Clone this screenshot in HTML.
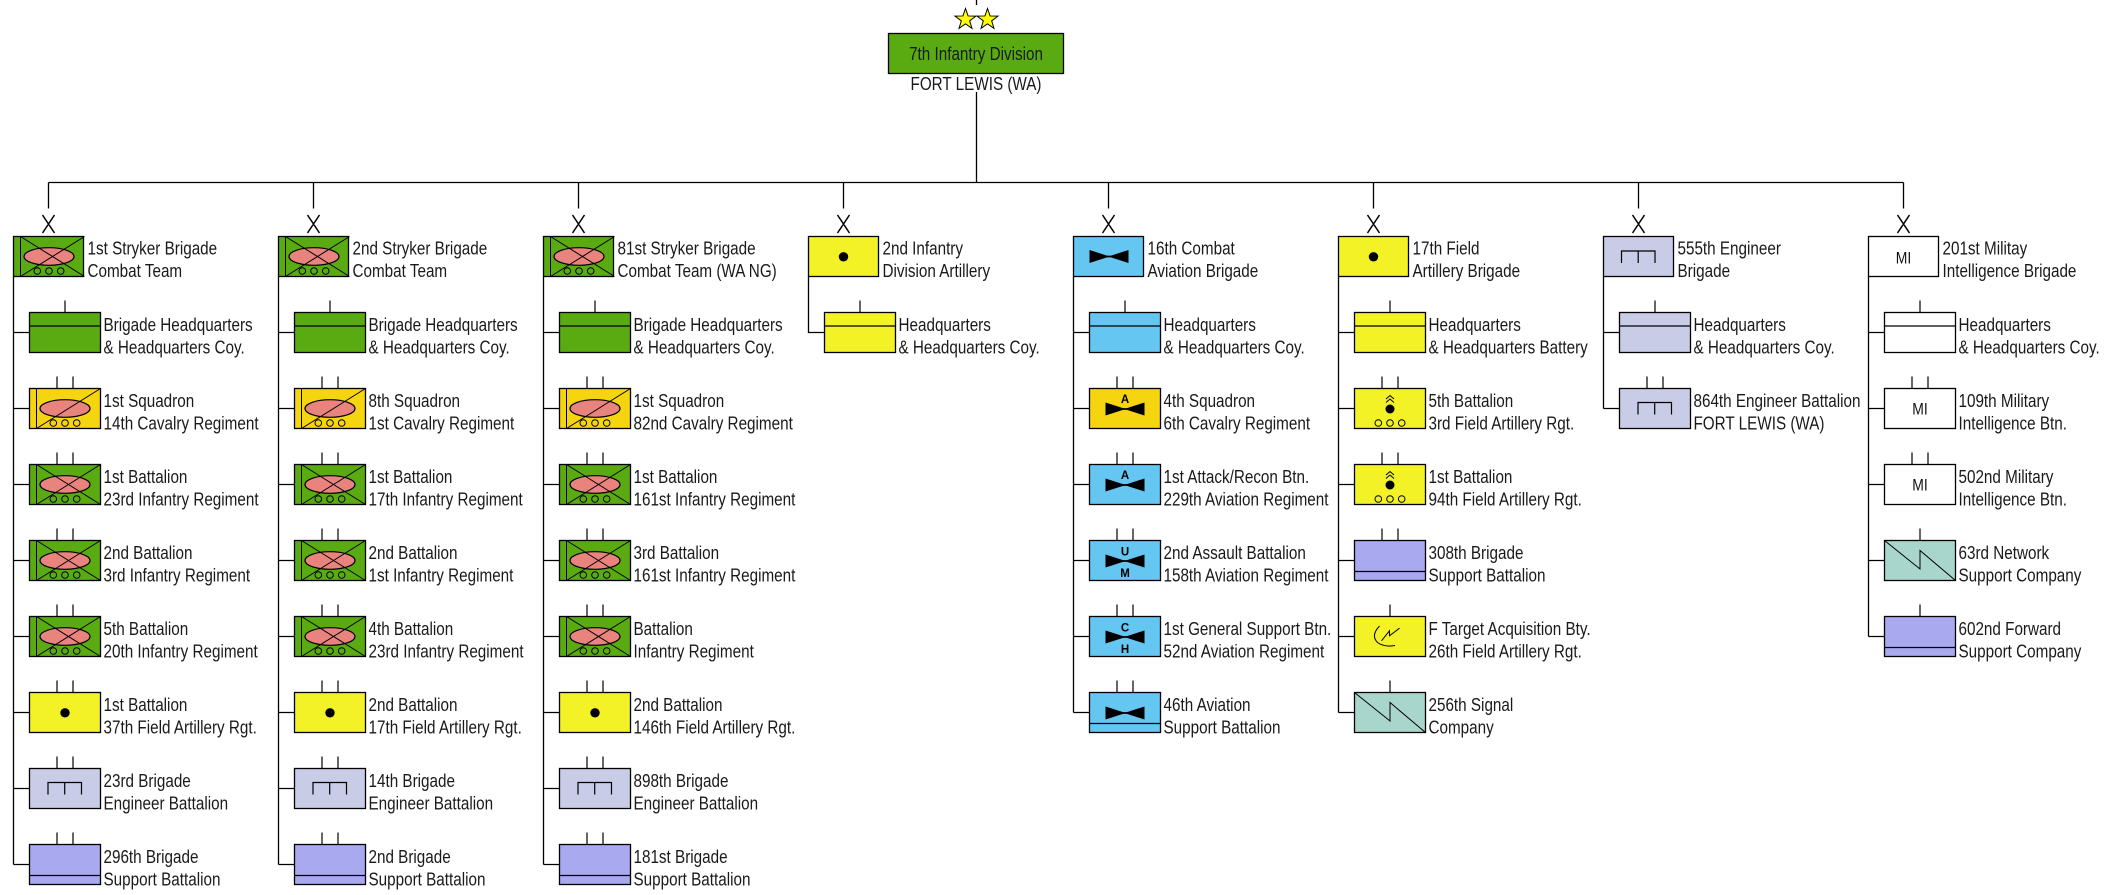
<!DOCTYPE html>
<html><head><meta charset="utf-8"><title>7th Infantry Division</title>
<style>
html,body{margin:0;padding:0;background:#fff;}
svg{display:block;}
text{font-family:"Liberation Sans",Arial,sans-serif;font-size:18.6px;fill:#1a1a1a;}
text.b{font-weight:bold;font-size:11.5px;fill:#000;text-anchor:middle;}
text.mi{font-size:17px;fill:#111;text-anchor:middle;}
rect{stroke:#000;stroke-width:1.3;}
</style></head><body>
<svg width="2111" height="895" viewBox="0 0 2111 895" xmlns="http://www.w3.org/2000/svg" xmlns:xlink="http://www.w3.org/1999/xlink">
<defs>
<path id="star" d="M0,-11L2.59,-3.56L10.46,-3.4L4.18,1.36L6.47,8.9L0,4.4L-6.47,8.9L-4.18,1.36L-10.46,-3.4L-2.59,-3.56Z" fill="#ffff00" stroke="#000" stroke-width="1"/>
<path id="t2" d="M27.5,-12V0M43.5,-12V0" stroke="#000" stroke-width="1.2" fill="none"/>
<path id="t1" d="M35.5,-12V0" stroke="#000" stroke-width="1.2" fill="none"/>
<path id="hq" d="M0,13.5H71" stroke="#000" stroke-width="1.2" fill="none"/>
<path id="sp" d="M0,31H71" stroke="#000" stroke-width="1.2" fill="none"/>
<path id="en" d="M18.5,26V14H52V26M35.2,14V26" stroke="#000" stroke-width="1.2" fill="none"/>
<circle id="dt" cx="35.5" cy="20.3" r="4.7" fill="#000"/>
<g id="inf">
<ellipse cx="35.5" cy="20" rx="25" ry="8.8" fill="#e8837e" stroke="#000" stroke-width="1.2"/>
<path d="M7,0V40M7,0L71,40M7,40L71,0" stroke="#000" stroke-width="1" fill="none"/>
<g fill="none" stroke="#000" stroke-width="1"><circle cx="23.8" cy="34.5" r="3.3"/><circle cx="35.5" cy="34.5" r="3.3"/><circle cx="47.2" cy="34.5" r="3.3"/></g>
</g>
<g id="cav">
<ellipse cx="35.5" cy="20" rx="25" ry="8.8" fill="#e8837e" stroke="#000" stroke-width="1.2"/>
<path d="M7,0V40M7,40L71,0" stroke="#000" stroke-width="1" fill="none"/>
<g fill="none" stroke="#000" stroke-width="1"><circle cx="23.8" cy="34.5" r="3.3"/><circle cx="35.5" cy="34.5" r="3.3"/><circle cx="47.2" cy="34.5" r="3.3"/></g>
</g>
<g id="rk">
<path d="M31.5,10.5L35.5,7L39.5,10.5M31.5,14L35.5,10.5L39.5,14" fill="none" stroke="#000" stroke-width="1"/>
<circle cx="35.5" cy="20.5" r="4.5" fill="#000"/>
<g fill="none" stroke="#000" stroke-width="1"><circle cx="23.8" cy="34.5" r="3.3"/><circle cx="35.5" cy="34.5" r="3.3"/><circle cx="47.2" cy="34.5" r="3.3"/></g>
</g>
<polygon id="bw" points="16,14 33.5,19.6 37.5,19.6 55,14 55,27 37.5,21.4 33.5,21.4 16,27" fill="#000"/>
<polyline id="sg" points="0,0 35.5,28.5 35.5,10 71,40" fill="none" stroke="#000" stroke-width="1"/>
<path id="ta" d="M25,9.5Q16,19 23,26Q30,31 40.5,29M27,24.3L35,14.3L35,19.3L45,11.7" fill="none" stroke="#000" stroke-width="1"/>
</defs>

<!-- connectors -->
<path fill="none" stroke="#000" stroke-width="1.3" d="
M976.5,0V5M976.5,92V182.5M48.5,182.5H1903.5
M48.5,182.5V208.5M313.5,182.5V208.5M578.5,182.5V208.5M843.5,182.5V208.5M1108.5,182.5V208.5M1373.5,182.5V208.5M1638.5,182.5V208.5M1903.5,182.5V208.5
M13.5,276.5V864.5M13.5,332.5H29.5M13.5,408.5H29.5M13.5,484.5H29.5M13.5,560.5H29.5M13.5,636.5H29.5M13.5,712.5H29.5M13.5,788.5H29.5M13.5,864.5H29.5
M278.5,276.5V864.5M278.5,332.5H294.5M278.5,408.5H294.5M278.5,484.5H294.5M278.5,560.5H294.5M278.5,636.5H294.5M278.5,712.5H294.5M278.5,788.5H294.5M278.5,864.5H294.5
M543.5,276.5V864.5M543.5,332.5H559.5M543.5,408.5H559.5M543.5,484.5H559.5M543.5,560.5H559.5M543.5,636.5H559.5M543.5,712.5H559.5M543.5,788.5H559.5M543.5,864.5H559.5
M808.5,276.5V332.5H824.5
M1073.5,276.5V712.5M1073.5,332.5H1089.5M1073.5,408.5H1089.5M1073.5,484.5H1089.5M1073.5,560.5H1089.5M1073.5,636.5H1089.5M1073.5,712.5H1089.5
M1338.5,276.5V712.5M1338.5,332.5H1354.5M1338.5,408.5H1354.5M1338.5,484.5H1354.5M1338.5,560.5H1354.5M1338.5,636.5H1354.5M1338.5,712.5H1354.5
M1603.5,276.5V408.5M1603.5,332.5H1619.5M1603.5,408.5H1619.5
M1868.5,276.5V636.5M1868.5,332.5H1884.5M1868.5,408.5H1884.5M1868.5,484.5H1884.5M1868.5,560.5H1884.5M1868.5,636.5H1884.5
"/>
<!-- brigade X marks -->
<path fill="none" stroke="#000" stroke-width="1.5" d="
M42.5,215L54.5,233M54.5,215L42.5,233
M307.5,215L319.5,233M319.5,215L307.5,233
M572.5,215L584.5,233M584.5,215L572.5,233
M837.5,215L849.5,233M849.5,215L837.5,233
M1102.5,215L1114.5,233M1114.5,215L1102.5,233
M1367.5,215L1379.5,233M1379.5,215L1367.5,233
M1632.5,215L1644.5,233M1644.5,215L1632.5,233
M1897.5,215L1909.5,233M1909.5,215L1897.5,233"/>

<!-- division -->
<use href="#star" xlink:href="#star" x="965.5" y="19.5"/>
<use href="#star" xlink:href="#star" x="987.5" y="19.5"/>
<rect x="888.5" y="33.5" width="175" height="40" fill="#5aab12"/>
<text transform="translate(976,60) scale(.82,1)" text-anchor="middle">7th Infantry Division</text>
<text transform="translate(976,90) scale(.82,1)" text-anchor="middle">FORT LEWIS (WA)</text>

<!-- ================= COLUMN 1 ================= -->
<rect x="13.5" y="236.5" width="70" height="40" fill="#5aab12"/><use href="#inf" xlink:href="#inf" x="13.5" y="236.5"/>
<text transform="translate(87.5,254.5) scale(.82,1)"><tspan x="0">1st Stryker Brigade</tspan><tspan x="0" y="22.5">Combat Team</tspan></text>

<rect x="29.5" y="312.5" width="71" height="40" fill="#5aab12"/><use href="#hq" xlink:href="#hq" x="29.5" y="312.5"/><use href="#t1" xlink:href="#t1" x="29.5" y="312.5"/>
<text transform="translate(103.5,331) scale(.82,1)"><tspan x="0">Brigade Headquarters</tspan><tspan x="0" y="22.5">&amp; Headquarters Coy.</tspan></text>
<rect x="29.5" y="388.5" width="71" height="40" fill="#f5d410"/><use href="#cav" xlink:href="#cav" x="29.5" y="388.5"/><use href="#t2" xlink:href="#t2" x="29.5" y="388.5"/>
<text transform="translate(103.5,407) scale(.82,1)"><tspan x="0">1st Squadron</tspan><tspan x="0" y="22.5">14th Cavalry Regiment</tspan></text>
<rect x="29.5" y="464.5" width="71" height="40" fill="#5aab12"/><use href="#inf" xlink:href="#inf" x="29.5" y="464.5"/><use href="#t2" xlink:href="#t2" x="29.5" y="464.5"/>
<text transform="translate(103.5,483) scale(.82,1)"><tspan x="0">1st Battalion</tspan><tspan x="0" y="22.5">23rd Infantry Regiment</tspan></text>
<rect x="29.5" y="540.5" width="71" height="40" fill="#5aab12"/><use href="#inf" xlink:href="#inf" x="29.5" y="540.5"/><use href="#t2" xlink:href="#t2" x="29.5" y="540.5"/>
<text transform="translate(103.5,559) scale(.82,1)"><tspan x="0">2nd Battalion</tspan><tspan x="0" y="22.5">3rd Infantry Regiment</tspan></text>
<rect x="29.5" y="616.5" width="71" height="40" fill="#5aab12"/><use href="#inf" xlink:href="#inf" x="29.5" y="616.5"/><use href="#t2" xlink:href="#t2" x="29.5" y="616.5"/>
<text transform="translate(103.5,635) scale(.82,1)"><tspan x="0">5th Battalion</tspan><tspan x="0" y="22.5">20th Infantry Regiment</tspan></text>
<rect x="29.5" y="692.5" width="71" height="40" fill="#f2f226"/><use href="#dt" xlink:href="#dt" x="29.5" y="692.5"/><use href="#t2" xlink:href="#t2" x="29.5" y="692.5"/>
<text transform="translate(103.5,711) scale(.82,1)"><tspan x="0">1st Battalion</tspan><tspan x="0" y="22.5">37th Field Artillery Rgt.</tspan></text>
<rect x="29.5" y="768.5" width="71" height="40" fill="#c9cce7"/><use href="#en" xlink:href="#en" x="29.5" y="768.5"/><use href="#t2" xlink:href="#t2" x="29.5" y="768.5"/>
<text transform="translate(103.5,787) scale(.82,1)"><tspan x="0">23rd Brigade</tspan><tspan x="0" y="22.5">Engineer Battalion</tspan></text>
<rect x="29.5" y="844.5" width="71" height="40" fill="#a8a9ee"/><use href="#sp" xlink:href="#sp" x="29.5" y="844.5"/><use href="#t2" xlink:href="#t2" x="29.5" y="844.5"/>
<text transform="translate(103.5,863) scale(.82,1)"><tspan x="0">296th Brigade</tspan><tspan x="0" y="22.5">Support Battalion</tspan></text>

<!-- ================= COLUMN 2 ================= -->
<rect x="278.5" y="236.5" width="70" height="40" fill="#5aab12"/><use href="#inf" xlink:href="#inf" x="278.5" y="236.5"/>
<text transform="translate(352.5,254.5) scale(.82,1)"><tspan x="0">2nd Stryker Brigade</tspan><tspan x="0" y="22.5">Combat Team</tspan></text>

<rect x="294.5" y="312.5" width="71" height="40" fill="#5aab12"/><use href="#hq" xlink:href="#hq" x="294.5" y="312.5"/><use href="#t1" xlink:href="#t1" x="294.5" y="312.5"/>
<text transform="translate(368.5,331) scale(.82,1)"><tspan x="0">Brigade Headquarters</tspan><tspan x="0" y="22.5">&amp; Headquarters Coy.</tspan></text>
<rect x="294.5" y="388.5" width="71" height="40" fill="#f5d410"/><use href="#cav" xlink:href="#cav" x="294.5" y="388.5"/><use href="#t2" xlink:href="#t2" x="294.5" y="388.5"/>
<text transform="translate(368.5,407) scale(.82,1)"><tspan x="0">8th Squadron</tspan><tspan x="0" y="22.5">1st Cavalry Regiment</tspan></text>
<rect x="294.5" y="464.5" width="71" height="40" fill="#5aab12"/><use href="#inf" xlink:href="#inf" x="294.5" y="464.5"/><use href="#t2" xlink:href="#t2" x="294.5" y="464.5"/>
<text transform="translate(368.5,483) scale(.82,1)"><tspan x="0">1st Battalion</tspan><tspan x="0" y="22.5">17th Infantry Regiment</tspan></text>
<rect x="294.5" y="540.5" width="71" height="40" fill="#5aab12"/><use href="#inf" xlink:href="#inf" x="294.5" y="540.5"/><use href="#t2" xlink:href="#t2" x="294.5" y="540.5"/>
<text transform="translate(368.5,559) scale(.82,1)"><tspan x="0">2nd Battalion</tspan><tspan x="0" y="22.5">1st Infantry Regiment</tspan></text>
<rect x="294.5" y="616.5" width="71" height="40" fill="#5aab12"/><use href="#inf" xlink:href="#inf" x="294.5" y="616.5"/><use href="#t2" xlink:href="#t2" x="294.5" y="616.5"/>
<text transform="translate(368.5,635) scale(.82,1)"><tspan x="0">4th Battalion</tspan><tspan x="0" y="22.5">23rd Infantry Regiment</tspan></text>
<rect x="294.5" y="692.5" width="71" height="40" fill="#f2f226"/><use href="#dt" xlink:href="#dt" x="294.5" y="692.5"/><use href="#t2" xlink:href="#t2" x="294.5" y="692.5"/>
<text transform="translate(368.5,711) scale(.82,1)"><tspan x="0">2nd Battalion</tspan><tspan x="0" y="22.5">17th Field Artillery Rgt.</tspan></text>
<rect x="294.5" y="768.5" width="71" height="40" fill="#c9cce7"/><use href="#en" xlink:href="#en" x="294.5" y="768.5"/><use href="#t2" xlink:href="#t2" x="294.5" y="768.5"/>
<text transform="translate(368.5,787) scale(.82,1)"><tspan x="0">14th Brigade</tspan><tspan x="0" y="22.5">Engineer Battalion</tspan></text>
<rect x="294.5" y="844.5" width="71" height="40" fill="#a8a9ee"/><use href="#sp" xlink:href="#sp" x="294.5" y="844.5"/><use href="#t2" xlink:href="#t2" x="294.5" y="844.5"/>
<text transform="translate(368.5,863) scale(.82,1)"><tspan x="0">2nd Brigade</tspan><tspan x="0" y="22.5">Support Battalion</tspan></text>

<!-- ================= COLUMN 3 ================= -->
<rect x="543.5" y="236.5" width="70" height="40" fill="#5aab12"/><use href="#inf" xlink:href="#inf" x="543.5" y="236.5"/>
<text transform="translate(617.5,254.5) scale(.82,1)"><tspan x="0">81st Stryker Brigade</tspan><tspan x="0" y="22.5">Combat Team (WA NG)</tspan></text>

<rect x="559.5" y="312.5" width="71" height="40" fill="#5aab12"/><use href="#hq" xlink:href="#hq" x="559.5" y="312.5"/><use href="#t1" xlink:href="#t1" x="559.5" y="312.5"/>
<text transform="translate(633.5,331) scale(.82,1)"><tspan x="0">Brigade Headquarters</tspan><tspan x="0" y="22.5">&amp; Headquarters Coy.</tspan></text>
<rect x="559.5" y="388.5" width="71" height="40" fill="#f5d410"/><use href="#cav" xlink:href="#cav" x="559.5" y="388.5"/><use href="#t2" xlink:href="#t2" x="559.5" y="388.5"/>
<text transform="translate(633.5,407) scale(.82,1)"><tspan x="0">1st Squadron</tspan><tspan x="0" y="22.5">82nd Cavalry Regiment</tspan></text>
<rect x="559.5" y="464.5" width="71" height="40" fill="#5aab12"/><use href="#inf" xlink:href="#inf" x="559.5" y="464.5"/><use href="#t2" xlink:href="#t2" x="559.5" y="464.5"/>
<text transform="translate(633.5,483) scale(.82,1)"><tspan x="0">1st Battalion</tspan><tspan x="0" y="22.5">161st Infantry Regiment</tspan></text>
<rect x="559.5" y="540.5" width="71" height="40" fill="#5aab12"/><use href="#inf" xlink:href="#inf" x="559.5" y="540.5"/><use href="#t2" xlink:href="#t2" x="559.5" y="540.5"/>
<text transform="translate(633.5,559) scale(.82,1)"><tspan x="0">3rd Battalion</tspan><tspan x="0" y="22.5">161st Infantry Regiment</tspan></text>
<rect x="559.5" y="616.5" width="71" height="40" fill="#5aab12"/><use href="#inf" xlink:href="#inf" x="559.5" y="616.5"/><use href="#t2" xlink:href="#t2" x="559.5" y="616.5"/>
<text transform="translate(633.5,635) scale(.82,1)"><tspan x="0">Battalion</tspan><tspan x="0" y="22.5">Infantry Regiment</tspan></text>
<rect x="559.5" y="692.5" width="71" height="40" fill="#f2f226"/><use href="#dt" xlink:href="#dt" x="559.5" y="692.5"/><use href="#t2" xlink:href="#t2" x="559.5" y="692.5"/>
<text transform="translate(633.5,711) scale(.82,1)"><tspan x="0">2nd Battalion</tspan><tspan x="0" y="22.5">146th Field Artillery Rgt.</tspan></text>
<rect x="559.5" y="768.5" width="71" height="40" fill="#c9cce7"/><use href="#en" xlink:href="#en" x="559.5" y="768.5"/><use href="#t2" xlink:href="#t2" x="559.5" y="768.5"/>
<text transform="translate(633.5,787) scale(.82,1)"><tspan x="0">898th Brigade</tspan><tspan x="0" y="22.5">Engineer Battalion</tspan></text>
<rect x="559.5" y="844.5" width="71" height="40" fill="#a8a9ee"/><use href="#sp" xlink:href="#sp" x="559.5" y="844.5"/><use href="#t2" xlink:href="#t2" x="559.5" y="844.5"/>
<text transform="translate(633.5,863) scale(.82,1)"><tspan x="0">181st Brigade</tspan><tspan x="0" y="22.5">Support Battalion</tspan></text>

<!-- ================= COLUMN 4 ================= -->
<rect x="808.5" y="236.5" width="70" height="40" fill="#f2f226"/><use href="#dt" xlink:href="#dt" x="808" y="236.5"/>
<text transform="translate(882.5,254.5) scale(.82,1)"><tspan x="0">2nd Infantry</tspan><tspan x="0" y="22.5">Division Artillery</tspan></text>
<rect x="824.5" y="312.5" width="71" height="40" fill="#f2f226"/><use href="#hq" xlink:href="#hq" x="824.5" y="312.5"/><use href="#t1" xlink:href="#t1" x="824.5" y="312.5"/>
<text transform="translate(898.5,331) scale(.82,1)"><tspan x="0">Headquarters</tspan><tspan x="0" y="22.5">&amp; Headquarters Coy.</tspan></text>

<!-- ================= COLUMN 5 ================= -->
<rect x="1073.5" y="236.5" width="70" height="40" fill="#66c6f2"/><use href="#bw" xlink:href="#bw" x="1073.5" y="236"/>
<text transform="translate(1147.5,254.5) scale(.82,1)"><tspan x="0">16th Combat</tspan><tspan x="0" y="22.5">Aviation Brigade</tspan></text>

<rect x="1089.5" y="312.5" width="71" height="40" fill="#66c6f2"/><use href="#hq" xlink:href="#hq" x="1089.5" y="312.5"/><use href="#t1" xlink:href="#t1" x="1089.5" y="312.5"/>
<text transform="translate(1163.5,331) scale(.82,1)"><tspan x="0">Headquarters</tspan><tspan x="0" y="22.5">&amp; Headquarters Coy.</tspan></text>
<rect x="1089.5" y="388.5" width="71" height="40" fill="#f5d410"/><use href="#bw" xlink:href="#bw" x="1089.5" y="388.5"/><use href="#t2" xlink:href="#t2" x="1089.5" y="388.5"/>
<text class="b" x="1125" y="403">A</text>
<text transform="translate(1163.5,407) scale(.82,1)"><tspan x="0">4th Squadron</tspan><tspan x="0" y="22.5">6th Cavalry Regiment</tspan></text>
<rect x="1089.5" y="464.5" width="71" height="40" fill="#66c6f2"/><use href="#bw" xlink:href="#bw" x="1089.5" y="464.5"/><use href="#t2" xlink:href="#t2" x="1089.5" y="464.5"/>
<text class="b" x="1125" y="479">A</text>
<text transform="translate(1163.5,483) scale(.82,1)"><tspan x="0">1st Attack/Recon Btn.</tspan><tspan x="0" y="22.5">229th Aviation Regiment</tspan></text>
<rect x="1089.5" y="540.5" width="71" height="40" fill="#66c6f2"/><use href="#bw" xlink:href="#bw" x="1089.5" y="540.5"/><use href="#t2" xlink:href="#t2" x="1089.5" y="540.5"/>
<text class="b" x="1125" y="555.5">U</text><text class="b" x="1125" y="577">M</text>
<text transform="translate(1163.5,559) scale(.82,1)"><tspan x="0">2nd Assault Battalion</tspan><tspan x="0" y="22.5">158th Aviation Regiment</tspan></text>
<rect x="1089.5" y="616.5" width="71" height="40" fill="#66c6f2"/><use href="#bw" xlink:href="#bw" x="1089.5" y="616.5"/><use href="#t2" xlink:href="#t2" x="1089.5" y="616.5"/>
<text class="b" x="1125" y="631.5">C</text><text class="b" x="1125" y="653">H</text>
<text transform="translate(1163.5,635) scale(.82,1)"><tspan x="0">1st General Support Btn.</tspan><tspan x="0" y="22.5">52nd Aviation Regiment</tspan></text>
<rect x="1089.5" y="692.5" width="71" height="40" fill="#66c6f2"/><use href="#bw" xlink:href="#bw" x="1089.5" y="692.5"/><use href="#sp" xlink:href="#sp" x="1089.5" y="692.5"/><use href="#t2" xlink:href="#t2" x="1089.5" y="692.5"/>
<text transform="translate(1163.5,711) scale(.82,1)"><tspan x="0">46th Aviation</tspan><tspan x="0" y="22.5">Support Battalion</tspan></text>

<!-- ================= COLUMN 6 ================= -->
<rect x="1338.5" y="236.5" width="70" height="40" fill="#f2f226"/><use href="#dt" xlink:href="#dt" x="1338" y="236.5"/>
<text transform="translate(1412.5,254.5) scale(.82,1)"><tspan x="0">17th Field</tspan><tspan x="0" y="22.5">Artillery Brigade</tspan></text>

<rect x="1354.5" y="312.5" width="71" height="40" fill="#f2f226"/><use href="#hq" xlink:href="#hq" x="1354.5" y="312.5"/><use href="#t1" xlink:href="#t1" x="1354.5" y="312.5"/>
<text transform="translate(1428.5,331) scale(.82,1)"><tspan x="0">Headquarters</tspan><tspan x="0" y="22.5">&amp; Headquarters Battery</tspan></text>
<rect x="1354.5" y="388.5" width="71" height="40" fill="#f2f226"/><use href="#rk" xlink:href="#rk" x="1354.5" y="388.5"/><use href="#t2" xlink:href="#t2" x="1354.5" y="388.5"/>
<text transform="translate(1428.5,407) scale(.82,1)"><tspan x="0">5th Battalion</tspan><tspan x="0" y="22.5">3rd Field Artillery Rgt.</tspan></text>
<rect x="1354.5" y="464.5" width="71" height="40" fill="#f2f226"/><use href="#rk" xlink:href="#rk" x="1354.5" y="464.5"/><use href="#t2" xlink:href="#t2" x="1354.5" y="464.5"/>
<text transform="translate(1428.5,483) scale(.82,1)"><tspan x="0">1st Battalion</tspan><tspan x="0" y="22.5">94th Field Artillery Rgt.</tspan></text>
<rect x="1354.5" y="540.5" width="71" height="40" fill="#a8a9ee"/><use href="#sp" xlink:href="#sp" x="1354.5" y="540.5"/><use href="#t2" xlink:href="#t2" x="1354.5" y="540.5"/>
<text transform="translate(1428.5,559) scale(.82,1)"><tspan x="0">308th Brigade</tspan><tspan x="0" y="22.5">Support Battalion</tspan></text>
<rect x="1354.5" y="616.5" width="71" height="40" fill="#f2f226"/><use href="#ta" xlink:href="#ta" x="1354.5" y="616.5"/><use href="#t1" xlink:href="#t1" x="1354.5" y="616.5"/>
<text transform="translate(1428.5,635) scale(.82,1)"><tspan x="0">F Target Acquisition Bty.</tspan><tspan x="0" y="22.5">26th Field Artillery Rgt.</tspan></text>
<rect x="1354.5" y="692.5" width="71" height="40" fill="#a9d6cc"/><use href="#sg" xlink:href="#sg" x="1354.5" y="692.5"/><use href="#t1" xlink:href="#t1" x="1354.5" y="692.5"/>
<text transform="translate(1428.5,711) scale(.82,1)"><tspan x="0">256th Signal</tspan><tspan x="0" y="22.5">Company</tspan></text>

<!-- ================= COLUMN 7 ================= -->
<rect x="1603.5" y="236.5" width="70" height="40" fill="#c9cce7"/><use href="#en" xlink:href="#en" x="1603" y="237"/>
<text transform="translate(1677.5,254.5) scale(.82,1)"><tspan x="0">555th Engineer</tspan><tspan x="0" y="22.5">Brigade</tspan></text>
<rect x="1619.5" y="312.5" width="71" height="40" fill="#c9cce7"/><use href="#hq" xlink:href="#hq" x="1619.5" y="312.5"/><use href="#t1" xlink:href="#t1" x="1619.5" y="312.5"/>
<text transform="translate(1693.5,331) scale(.82,1)"><tspan x="0">Headquarters</tspan><tspan x="0" y="22.5">&amp; Headquarters Coy.</tspan></text>
<rect x="1619.5" y="388.5" width="71" height="40" fill="#c9cce7"/><use href="#en" xlink:href="#en" x="1619.5" y="388.5"/><use href="#t2" xlink:href="#t2" x="1619.5" y="388.5"/>
<text transform="translate(1693.5,407) scale(.82,1)"><tspan x="0">864th Engineer Battalion</tspan><tspan x="0" y="22.5">FORT LEWIS (WA)</tspan></text>

<!-- ================= COLUMN 8 ================= -->
<rect x="1868.5" y="236.5" width="70" height="40" fill="#fff"/>
<text class="mi" transform="translate(1903.5,263.5) scale(.82,1)">MI</text>
<text transform="translate(1942.5,254.5) scale(.82,1)"><tspan x="0">201st Militay</tspan><tspan x="0" y="22.5">Intelligence Brigade</tspan></text>

<rect x="1884.5" y="312.5" width="71" height="40" fill="#fff"/><use href="#hq" xlink:href="#hq" x="1884.5" y="312.5"/><use href="#t1" xlink:href="#t1" x="1884.5" y="312.5"/>
<text transform="translate(1958.5,331) scale(.82,1)"><tspan x="0">Headquarters</tspan><tspan x="0" y="22.5">&amp; Headquarters Coy.</tspan></text>
<rect x="1884.5" y="388.5" width="71" height="40" fill="#fff"/><use href="#t2" xlink:href="#t2" x="1884.5" y="388.5"/>
<text class="mi" transform="translate(1920,414.5) scale(.82,1)">MI</text>
<text transform="translate(1958.5,407) scale(.82,1)"><tspan x="0">109th Military</tspan><tspan x="0" y="22.5">Intelligence Btn.</tspan></text>
<rect x="1884.5" y="464.5" width="71" height="40" fill="#fff"/><use href="#t2" xlink:href="#t2" x="1884.5" y="464.5"/>
<text class="mi" transform="translate(1920,490.5) scale(.82,1)">MI</text>
<text transform="translate(1958.5,483) scale(.82,1)"><tspan x="0">502nd Military</tspan><tspan x="0" y="22.5">Intelligence Btn.</tspan></text>
<rect x="1884.5" y="540.5" width="71" height="40" fill="#a9d6cc"/><use href="#sg" xlink:href="#sg" x="1884.5" y="540.5"/><use href="#t1" xlink:href="#t1" x="1884.5" y="540.5"/>
<text transform="translate(1958.5,559) scale(.82,1)"><tspan x="0">63rd Network</tspan><tspan x="0" y="22.5">Support Company</tspan></text>
<rect x="1884.5" y="616.5" width="71" height="40" fill="#a8a9ee"/><use href="#sp" xlink:href="#sp" x="1884.5" y="616.5"/><use href="#t1" xlink:href="#t1" x="1884.5" y="616.5"/>
<text transform="translate(1958.5,635) scale(.82,1)"><tspan x="0">602nd Forward</tspan><tspan x="0" y="22.5">Support Company</tspan></text>
</svg>
</body></html>
